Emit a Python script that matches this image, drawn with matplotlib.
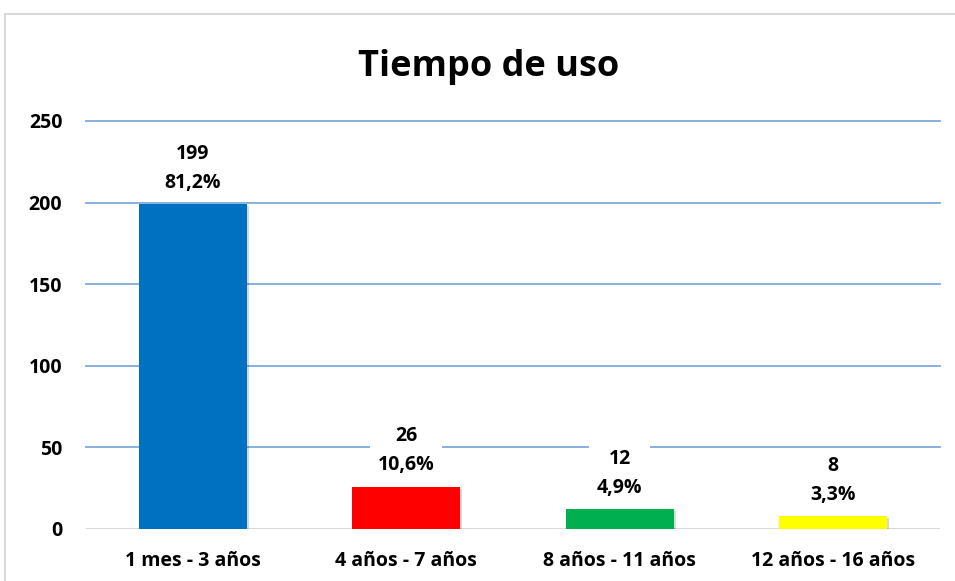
import matplotlib.pyplot as plt
import matplotlib.patches as patches
import matplotlib.patheffects as pe

categorias = ["1 mes - 3 años", "4 años - 7 años", "8 años - 11 años", "12 años - 16 años"]
valores = [199, 26, 12, 8]
porcentajes = ["81,2%", "10,6%", "4,9%", "3,3%"]
colores = ["#0070c0", "#ff0000", "#00b050", "#ffff00"]
ticks_y = [0, 50, 100, 150, 200, 250]

plt.rcParams['font.family'] = ['Open Sans', 'DejaVu Sans']

W, H = 955, 581
fig = plt.figure(figsize=(W / 100, H / 100), dpi=100)
fig.patch.set_facecolor("white")

# marco del grafico (sale por la derecha y abajo)
fig.patches.append(patches.Rectangle((5 / W, -0.1), 1.2, 1 - 14 / H + 0.1,
                                     transform=fig.transFigure, fill=False,
                                     edgecolor="#d9d9d9", linewidth=1.5))

ax = fig.add_axes([86 / W, 1 - 529 / H, (940 - 86) / W, (529 - 121) / H])
ax.set_xlim(-0.5, 3.5)
ax.set_ylim(0, 250)

for t in ticks_y[1:]:
    ax.axhline(t, color="#7faadc", linewidth=1.3, zorder=0, clip_on=False)
ax.axhline(0, color="#d9d9d9", linewidth=1.5, zorder=1)

x = range(len(categorias))
barras = ax.bar(x, valores, width=0.505, color=colores, zorder=2)
for b in barras:
    b.set_path_effects([pe.SimplePatchShadow(offset=(1.5, -1.5), shadow_rgbFace="#000000", alpha=0.15),
                        pe.Normal()])

for i, (v, p) in enumerate(zip(valores, porcentajes)):
    ax.annotate(f"{v}\n{p}", (i, v), xytext=(0, 8), textcoords="offset points",
                ha="center", va="bottom", fontsize=14, fontweight="bold",
                linespacing=1.6, zorder=3,
                bbox=dict(boxstyle="square,pad=0.4", facecolor="white", edgecolor="none"))

ax.set_yticks(ticks_y)
ax.set_yticklabels([str(t) for t in ticks_y], fontsize=14, fontweight="bold")
ax.set_xticks(list(x))
ax.set_xticklabels(categorias, fontsize=14, fontweight="bold")
ax.tick_params(length=0)
ax.tick_params(axis="y", pad=17)
ax.tick_params(axis="x", pad=16)
for s in ax.spines.values():
    s.set_visible(False)

fig.text(489 / W, 1 - 67 / H, "Tiempo de uso", ha="center", va="center",
         fontsize=26, fontweight="bold")

fig.savefig("out.png", dpi=100)
